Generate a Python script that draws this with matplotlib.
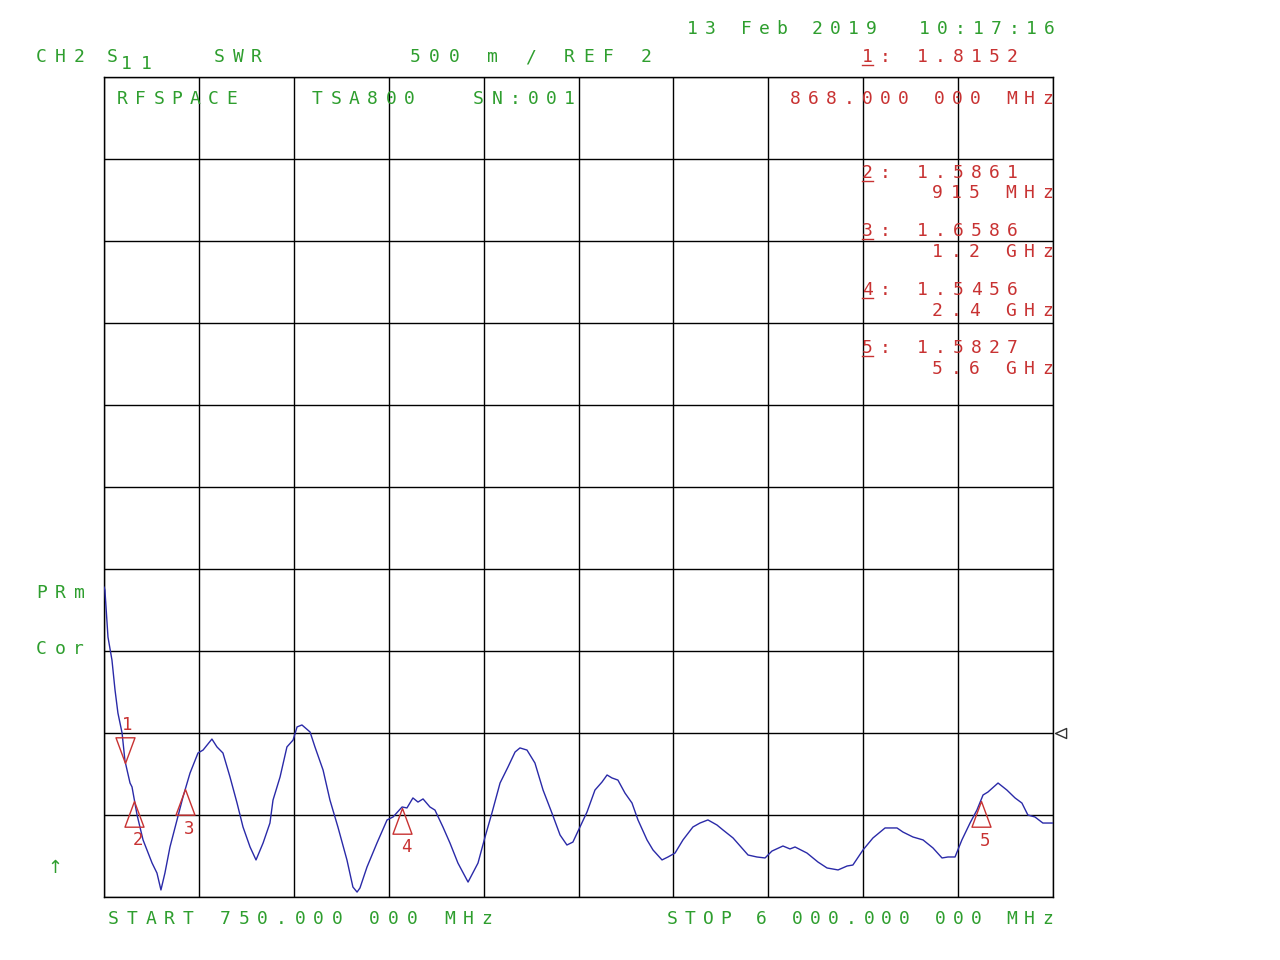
import matplotlib
matplotlib.use("Agg")
import matplotlib.pyplot as plt
from matplotlib.path import Path
from matplotlib.lines import Line2D
from matplotlib.transforms import ScaledTranslation

W, H = 1280, 960
GREEN = "#2e9e2e"
RED = "#c83232"
BLUE = "#2a2aa8"
MONO = "DejaVu Sans Mono"

# ---- instrument settings ----
start_mhz = 750.0
stop_mhz = 6000.0
ref_level = 2.0
per_div = 0.5
ref_div = 2
n_div = 10

# ---- trace data (frequency MHz, SWR) ----
freq_mhz = [750, 755, 772, 794, 811, 827, 850, 866, 894, 905, 933, 966, 1016, 1043,
            1065, 1087, 1115, 1154, 1187, 1226, 1270, 1298, 1347, 1375, 1408, 1447,
            1486, 1519, 1558, 1591, 1630, 1668, 1685, 1724, 1762, 1796, 1818, 1845,
            1890, 1917, 1962, 2000, 2044, 2094, 2127, 2150, 2166, 2205, 2260, 2316,
            2349, 2399, 2426, 2459, 2487, 2515, 2553, 2581, 2625, 2664, 2708, 2764,
            2819, 2858, 2896, 2941, 2985, 3024, 3051, 3090, 3134, 3179, 3228, 3273,
            3311, 3344, 3383, 3422, 3466, 3505, 3533, 3560, 3593, 3632, 3671, 3704,
            3754, 3787, 3837, 3870, 3909, 3953, 4008, 4047, 4091, 4141, 4174, 4230,
            4279, 4313, 4362, 4407, 4445, 4506, 4545, 4573, 4639, 4700, 4750, 4811,
            4861, 4893, 4949, 5004, 5071, 5137, 5170, 5225, 5281, 5336, 5386, 5419,
            5458, 5496, 5541, 5579, 5613, 5640, 5696, 5745, 5790, 5828, 5861, 5900,
            5944, 6000]
swr = [2.890, 2.872, 2.585, 2.445, 2.262, 2.122, 2.000, 1.830, 1.695, 1.671, 1.500,
       1.348, 1.207, 1.146, 1.043, 1.146, 1.305, 1.470, 1.610, 1.756, 1.878, 1.896,
       1.963, 1.915, 1.878, 1.732, 1.573, 1.427, 1.305, 1.226, 1.329, 1.451, 1.591,
       1.732, 1.915, 1.957, 2.037, 2.049, 2.006, 1.915, 1.774, 1.591, 1.427, 1.226,
       1.061, 1.030, 1.055, 1.183, 1.329, 1.470, 1.488, 1.549, 1.543, 1.604, 1.579,
       1.598, 1.549, 1.530, 1.427, 1.329, 1.207, 1.091, 1.207, 1.366, 1.512, 1.695,
       1.793, 1.884, 1.909, 1.896, 1.817, 1.652, 1.512, 1.378, 1.317, 1.335, 1.427,
       1.518, 1.652, 1.701, 1.744, 1.726, 1.713, 1.634, 1.573, 1.470, 1.348, 1.287,
       1.226, 1.244, 1.268, 1.348, 1.427, 1.451, 1.470, 1.439, 1.409, 1.360, 1.299,
       1.256, 1.244, 1.238, 1.280, 1.311, 1.293, 1.305, 1.268, 1.213, 1.177, 1.165,
       1.189, 1.195, 1.287, 1.360, 1.421, 1.421, 1.396, 1.366, 1.348, 1.299, 1.238,
       1.244, 1.244, 1.348, 1.451, 1.530, 1.622, 1.640, 1.695, 1.652, 1.604, 1.573,
       1.500, 1.488, 1.451, 1.451]

# ---- markers ----
marker_ids = [1, 2, 3, 4, 5]
marker_freq = [868, 915, 1200, 2400, 5600]
marker_val = [1.8152, 1.5861, 1.6586, 1.5456, 1.5827]
marker_val_text = ["1.8152", "1.5861", "1.6586", "1.5456", "1.5827"]
marker_freq_text = ["868.000 000 MHz", "915 MHz", "1.2 GHz", "2.4 GHz", "5.6 GHz"]

fig = plt.figure(figsize=(W / 100, H / 100), dpi=100, facecolor="white")
ax = fig.add_axes([104 / W, 1 - 897 / H, 949 / W, 820 / H])

ylo = ref_level - ref_div * per_div
yhi = ref_level + (n_div - ref_div) * per_div
ax.set_xlim(start_mhz, stop_mhz)
ax.set_ylim(ylo, yhi)
ax.set_xticks([start_mhz + i * (stop_mhz - start_mhz) / n_div for i in range(n_div + 1)])
ax.set_yticks([ylo + i * per_div for i in range(n_div + 1)])
ax.tick_params(length=0, labelbottom=False, labelleft=False)
ax.grid(True, color="black", lw=1.0)
for s in ax.spines.values():
    s.set_color("black")
    s.set_linewidth(1.0)
ax.set_axisbelow(True)

ax.plot(freq_mhz, swr, color=BLUE, lw=1.0, zorder=3)

# marker triangles: tip at the trace point
up_tri = Path([(0, 0), (-0.37, -1), (0.37, -1), (0, 0)],
              [Path.MOVETO, Path.LINETO, Path.LINETO, Path.CLOSEPOLY])
down_tri = Path([(0, 0), (-0.37, 1), (0.37, 1), (0, 0)],
                [Path.MOVETO, Path.LINETO, Path.LINETO, Path.CLOSEPOLY])
for mid, f, v in zip(marker_ids, marker_freq, marker_val):
    if mid == 1:
        ax.plot([f], [v], marker=down_tri, ms=37, mfc="none", mec=RED, mew=1.0,
                linestyle="none", zorder=4, clip_on=False)
        ax.annotate(str(mid), xy=(f, v), xytext=(1.4, 27.5), textcoords="offset points",
                    ha="center", va="center", color=RED, fontsize=12.5, family=MONO)
    else:
        ax.plot([f], [v], marker=up_tri, ms=37, mfc="none", mec=RED, mew=1.0,
                linestyle="none", zorder=4, clip_on=False)
        ax.annotate(str(mid), xy=(f, v), xytext=(2.9, -28.5), textcoords="offset points",
                    ha="center", va="center", color=RED, fontsize=12.5, family=MONO)

# reference level pointer on the right edge
left_tri = Path([(0, 0), (1, 0.45), (1, -0.45), (0, 0)],
                [Path.MOVETO, Path.LINETO, Path.LINETO, Path.CLOSEPOLY])
ax.plot([stop_mhz], [ref_level], marker=left_tri, ms=16, mfc="none", mec="#333333",
        mew=1.0, linestyle="none", clip_on=False,
        transform=ax.transData + ScaledTranslation(0.02, 0, fig.dpi_scale_trans))


def mono(x0, x1, yc, s, color, size=13):
    n = len(s)
    pitch = (x1 - x0 - 11) / (n - 1) if n > 1 else 0
    for i, ch in enumerate(s):
        if ch == " ":
            continue
        fig.text((x0 + 5.5 + i * pitch) / W, 1 - (yc + 7) / H, ch, color=color,
                 fontsize=size, family=MONO, ha="center", va="baseline")


def underline(x0, yc, color):
    fig.add_artist(Line2D([x0 / W, (x0 + 11) / W], [1 - (yc + 10) / H] * 2,
                          color=color, lw=1.0))


# header
mono(687, 1055, 27, "13 Feb 2019  10:17:16", GREEN)
mono(36, 85, 55, "CH2", GREEN)
mono(107, 118, 55, "S", GREEN)
mono(121, 152, 62, "11", GREEN)
mono(214, 262, 55, "SWR", GREEN)
mono(410, 652, 55, f"{int(per_div * 1000)} m / REF {int(ref_level)}", GREEN)
mono(117, 237, 97, "RFSPACE", GREEN)
mono(312, 415, 97, "TSA800", GREEN)
mono(473, 575, 97, "SN:001", GREEN)

# marker readouts
mono(862, 1018, 55, f"{marker_ids[0]}: {marker_val_text[0]}", RED)
underline(862, 55, RED)
mono(790, 1053, 97, marker_freq_text[0], RED)
rows = [(171, 191), (229, 250), (288, 309), (346, 367)]
for k, (y1, y2) in enumerate(rows, start=1):
    mono(862, 1018, y1, f"{marker_ids[k]}: {marker_val_text[k]}", RED)
    underline(862, y1, RED)
    mono(932, 1053, y2, marker_freq_text[k], RED)

# side labels
mono(36, 85, 591, "PRm", GREEN)
mono(36, 84, 647, "Cor", GREEN)
fig.text(55 / W, 1 - 868 / H, "\u2191", color=GREEN, fontsize=13, family="DejaVu Sans",
         ha="center", va="center")

# footer
mono(108, 492, 917, f"START {start_mhz:.0f}.000 000 MHz", GREEN)
mono(667, 1053, 917, f"STOP {int(stop_mhz) // 1000} {int(stop_mhz) % 1000:03d}.000 000 MHz", GREEN)

fig.savefig("out.png", dpi=100, facecolor="white")
